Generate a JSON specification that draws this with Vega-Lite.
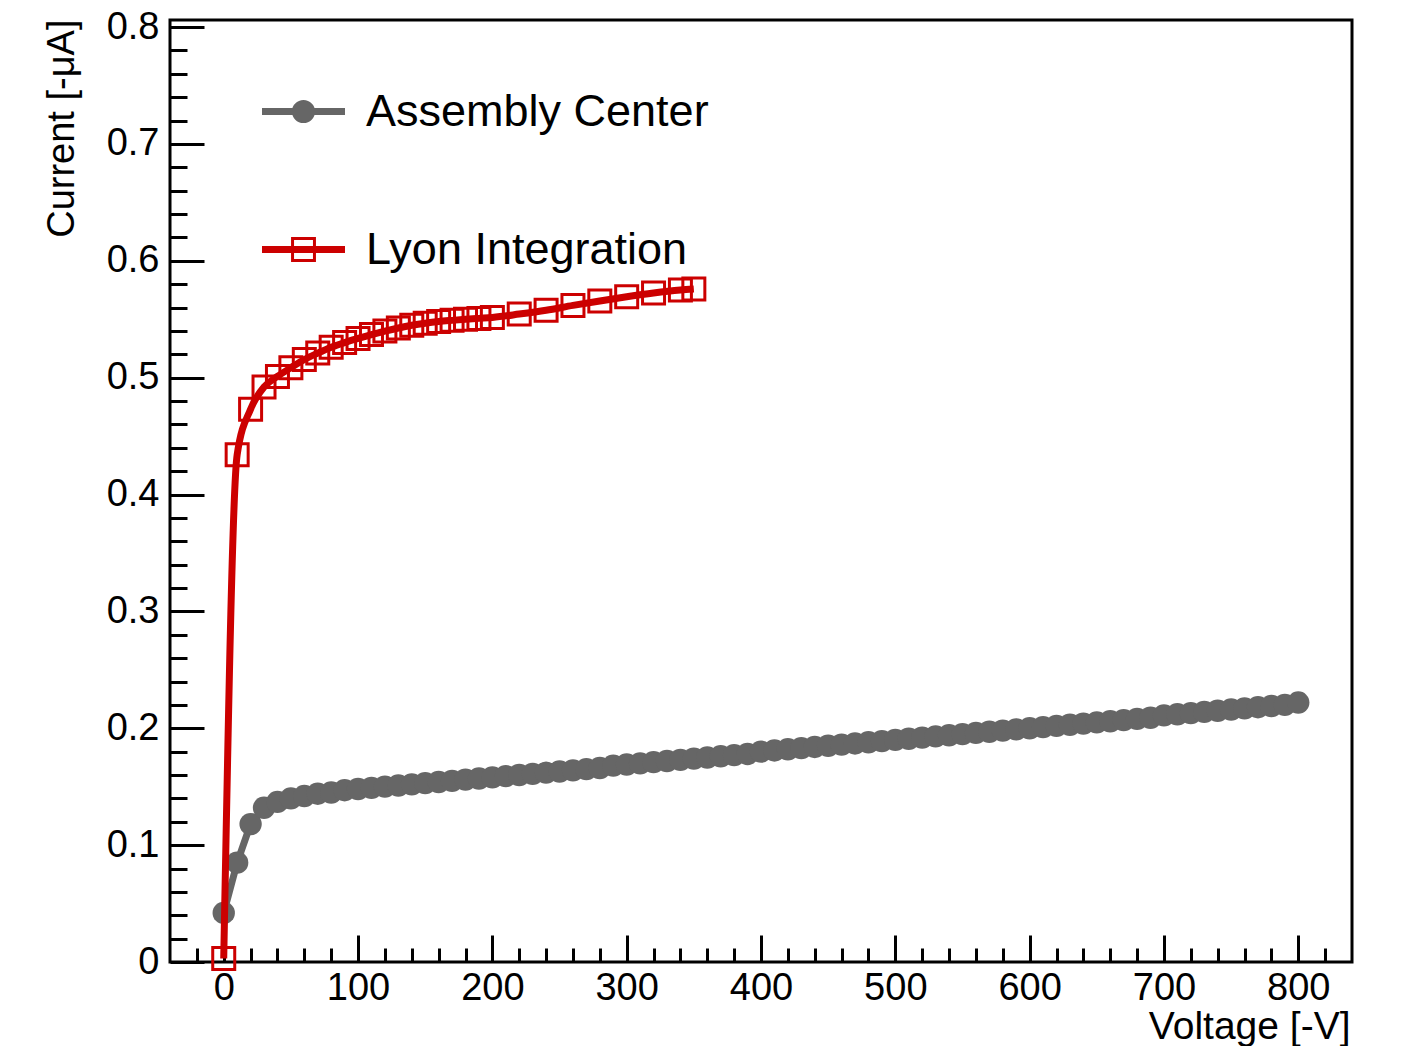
{
  "$schema": "https://vega.github.io/schema/vega-lite/v6.json",
  "width": 1182,
  "height": 942,
  "autosize": {"type": "none"},
  "padding": {"left": 170, "top": 20, "right": 52, "bottom": 84},
  "background": "white",
  "config": {
    "view": {"stroke": "black", "strokeWidth": 3},
    "font": "Liberation Sans"
  },
  "datasets": {
    "ac": [
      {"series":"Assembly Center","v":0,"i":0.042},{"series":"Assembly Center","v":10,"i":0.085},{"series":"Assembly Center","v":20,"i":0.118},{"series":"Assembly Center","v":30,"i":0.132},{"series":"Assembly Center","v":40,"i":0.137},{"series":"Assembly Center","v":50,"i":0.140},{"series":"Assembly Center","v":60,"i":0.142},{"series":"Assembly Center","v":70,"i":0.144},{"series":"Assembly Center","v":80,"i":0.145},{"series":"Assembly Center","v":90,"i":0.147},
      {"series":"Assembly Center","v":100,"i":0.148},{"series":"Assembly Center","v":110,"i":0.149},{"series":"Assembly Center","v":120,"i":0.150},{"series":"Assembly Center","v":130,"i":0.151},{"series":"Assembly Center","v":140,"i":0.152},{"series":"Assembly Center","v":150,"i":0.153},{"series":"Assembly Center","v":160,"i":0.154},{"series":"Assembly Center","v":170,"i":0.155},{"series":"Assembly Center","v":180,"i":0.156},{"series":"Assembly Center","v":190,"i":0.157},
      {"series":"Assembly Center","v":200,"i":0.158},{"series":"Assembly Center","v":210,"i":0.159},{"series":"Assembly Center","v":220,"i":0.160},{"series":"Assembly Center","v":230,"i":0.161},{"series":"Assembly Center","v":240,"i":0.162},{"series":"Assembly Center","v":250,"i":0.163},{"series":"Assembly Center","v":260,"i":0.164},{"series":"Assembly Center","v":270,"i":0.165},{"series":"Assembly Center","v":280,"i":0.166},{"series":"Assembly Center","v":290,"i":0.168},
      {"series":"Assembly Center","v":300,"i":0.169},{"series":"Assembly Center","v":310,"i":0.170},{"series":"Assembly Center","v":320,"i":0.171},{"series":"Assembly Center","v":330,"i":0.172},{"series":"Assembly Center","v":340,"i":0.173},{"series":"Assembly Center","v":350,"i":0.174},{"series":"Assembly Center","v":360,"i":0.175},{"series":"Assembly Center","v":370,"i":0.176},{"series":"Assembly Center","v":380,"i":0.177},{"series":"Assembly Center","v":390,"i":0.178},
      {"series":"Assembly Center","v":400,"i":0.180},{"series":"Assembly Center","v":410,"i":0.181},{"series":"Assembly Center","v":420,"i":0.182},{"series":"Assembly Center","v":430,"i":0.183},{"series":"Assembly Center","v":440,"i":0.184},{"series":"Assembly Center","v":450,"i":0.185},{"series":"Assembly Center","v":460,"i":0.186},{"series":"Assembly Center","v":470,"i":0.187},{"series":"Assembly Center","v":480,"i":0.188},{"series":"Assembly Center","v":490,"i":0.189},
      {"series":"Assembly Center","v":500,"i":0.190},{"series":"Assembly Center","v":510,"i":0.191},{"series":"Assembly Center","v":520,"i":0.192},{"series":"Assembly Center","v":530,"i":0.193},{"series":"Assembly Center","v":540,"i":0.194},{"series":"Assembly Center","v":550,"i":0.195},{"series":"Assembly Center","v":560,"i":0.196},{"series":"Assembly Center","v":570,"i":0.197},{"series":"Assembly Center","v":580,"i":0.198},{"series":"Assembly Center","v":590,"i":0.199},
      {"series":"Assembly Center","v":600,"i":0.200},{"series":"Assembly Center","v":610,"i":0.201},{"series":"Assembly Center","v":620,"i":0.202},{"series":"Assembly Center","v":630,"i":0.203},{"series":"Assembly Center","v":640,"i":0.204},{"series":"Assembly Center","v":650,"i":0.205},{"series":"Assembly Center","v":660,"i":0.206},{"series":"Assembly Center","v":670,"i":0.207},{"series":"Assembly Center","v":680,"i":0.208},{"series":"Assembly Center","v":690,"i":0.209},
      {"series":"Assembly Center","v":700,"i":0.211},{"series":"Assembly Center","v":710,"i":0.212},{"series":"Assembly Center","v":720,"i":0.213},{"series":"Assembly Center","v":730,"i":0.214},{"series":"Assembly Center","v":740,"i":0.215},{"series":"Assembly Center","v":750,"i":0.216},{"series":"Assembly Center","v":760,"i":0.217},{"series":"Assembly Center","v":770,"i":0.218},{"series":"Assembly Center","v":780,"i":0.219},{"series":"Assembly Center","v":790,"i":0.220},
      {"series":"Assembly Center","v":800,"i":0.222}
    ],
    "ly": [
      {"series":"Lyon Integration","v":0,"i":0.003},{"series":"Lyon Integration","v":10,"i":0.434},{"series":"Lyon Integration","v":20,"i":0.473},{"series":"Lyon Integration","v":30,"i":0.492},{"series":"Lyon Integration","v":40,"i":0.501},{"series":"Lyon Integration","v":50,"i":0.5085},{"series":"Lyon Integration","v":60,"i":0.5155},{"series":"Lyon Integration","v":70,"i":0.521},{"series":"Lyon Integration","v":80,"i":0.526},{"series":"Lyon Integration","v":90,"i":0.530},
      {"series":"Lyon Integration","v":100,"i":0.5335},{"series":"Lyon Integration","v":110,"i":0.5368},{"series":"Lyon Integration","v":120,"i":0.5398},{"series":"Lyon Integration","v":130,"i":0.5425},{"series":"Lyon Integration","v":140,"i":0.5448},{"series":"Lyon Integration","v":150,"i":0.5466},{"series":"Lyon Integration","v":160,"i":0.548},{"series":"Lyon Integration","v":170,"i":0.549},{"series":"Lyon Integration","v":180,"i":0.5499},{"series":"Lyon Integration","v":190,"i":0.5507},
      {"series":"Lyon Integration","v":200,"i":0.5515},{"series":"Lyon Integration","v":220,"i":0.5544},{"series":"Lyon Integration","v":240,"i":0.5577},{"series":"Lyon Integration","v":260,"i":0.5618},{"series":"Lyon Integration","v":280,"i":0.5656},{"series":"Lyon Integration","v":300,"i":0.5692},{"series":"Lyon Integration","v":320,"i":0.5724},{"series":"Lyon Integration","v":340,"i":0.5749},{"series":"Lyon Integration","v":350,"i":0.5758}
    ]
  },
  "encoding": {
    "x": {
      "field": "v", "type": "quantitative",
      "scale": {"domain": [-40, 840], "nice": false, "zero": false},
      "axis": {
        "values": [-20,0,20,40,60,80,100,120,140,160,180,200,220,240,260,280,300,320,340,360,380,400,420,440,460,480,500,520,540,560,580,600,620,640,660,680,700,720,740,760,780,800,820],
        "labelExpr": "datum.value % 100 === 0 ? datum.label : ''",
        "format": "d",
        "domain": false,
        "grid": false,
        "tickColor": "black",
        "tickWidth": 3,
        "tickSize": {"condition": {"test": "datum.value % 100 === 0", "value": -27}, "value": -14},
        "labelPadding": 34,
        "labelFont": "Liberation Sans",
        "labelFontSize": 38,
        "labelColor": "black",
        "labelOverlap": false,
        "labelFlush": false,
        "labelBound": false,
        "title": "Voltage [-V]",
        "titleFont": "Liberation Sans",
        "titleFontSize": 39,
        "titleFontWeight": "normal",
        "titleColor": "black",
        "titleAlign": "right",
        "titleAnchor": "end",
        "titleBaseline": "alphabetic",
        "titleX": 1180,
        "titleY": 76
      }
    },
    "y": {
      "field": "i", "type": "quantitative",
      "scale": {"domain": [0, 0.806], "nice": false, "zero": false},
      "axis": {
        "values": [0,0.02,0.04,0.06,0.08,0.1,0.12,0.14,0.16,0.18,0.2,0.22,0.24,0.26,0.28,0.3,0.32,0.34,0.36,0.38,0.4,0.42,0.44,0.46,0.48,0.5,0.52,0.54,0.56,0.58,0.6,0.62,0.64,0.66,0.68,0.7,0.72,0.74,0.76,0.78,0.8],
        "labelExpr": "abs(datum.value*10 - round(datum.value*10)) < 1e-6 ? format(datum.value, '~g') : ''",
        "domain": false,
        "grid": false,
        "tickColor": "black",
        "tickWidth": 3,
        "tickSize": {"condition": {"test": "abs(datum.value*10 - round(datum.value*10)) < 1e-6", "value": -34}, "value": -17},
        "labelPadding": 45,
        "labelFont": "Liberation Sans",
        "labelFontSize": 38,
        "labelColor": "black",
        "labelOverlap": false,
        "labelFlush": false,
        "labelBound": false,
        "title": "Current [-μA]",
        "titleFont": "Liberation Sans",
        "titleFontSize": 38,
        "titleFontWeight": "normal",
        "titleColor": "black",
        "titleAngle": -90,
        "titleAlign": "right",
        "titleAnchor": "end",
        "titleBaseline": "alphabetic",
        "titleX": -97,
        "titleY": -1
      }
    },
    "color": {
      "field": "series", "type": "nominal",
      "scale": {"domain": ["Assembly Center", "Lyon Integration"], "range": ["#666666", "#cc0000"]},
      "legend": {
        "title": null,
        "orient": "none",
        "legendX": 92,
        "legendY": 50,
        "symbolSize": 6889,
        "rowPadding": 73,
        "labelFont": "Liberation Sans",
        "labelFontSize": 45,
        "labelColor": "black",
        "labelOffset": 21,
        "labelLimit": 0,
        "symbolOpacity": 1,
        "encode": {
          "symbols": {
            "update": {
              "shape": {"signal": "datum.value === 'Assembly Center' ? 'M-1,-0.085H1V0.085H-1ZM0.28,0A0.28,0.28,0,1,1,-0.28,0A0.28,0.28,0,1,1,0.28,0Z' : 'M-1,-0.085H1V0.085H-1ZM-0.3,-0.3H0.3V0.3H-0.3ZM-0.228,-0.228V0.228H0.228V-0.228Z'"},
              "fill": {"signal": "datum.value === 'Assembly Center' ? '#666666' : '#cc0000'"},
              "stroke": {"value": "transparent"},
              "strokeWidth": {"value": 0},
              "size": {"value": 6889},
              "opacity": {"value": 1},
              "fillOpacity": {"value": 1}
            }
          }
        }
      }
    }
  },
  "layer": [
    {
      "data": {"name": "ac"},
      "mark": {"type": "line", "strokeWidth": 7, "interpolate": "linear"}
    },
    {
      "data": {"name": "ac"},
      "mark": {"type": "point", "shape": "circle", "filled": true, "size": 500, "opacity": 1}
    },
    {
      "data": {"name": "ly"},
      "mark": {"type": "line", "strokeWidth": 7, "interpolate": "monotone"}
    },
    {
      "data": {"name": "ly"},
      "mark": {"type": "point", "shape": "square", "filled": false, "size": 484, "strokeWidth": 3, "opacity": 1}
    }
  ]
}
